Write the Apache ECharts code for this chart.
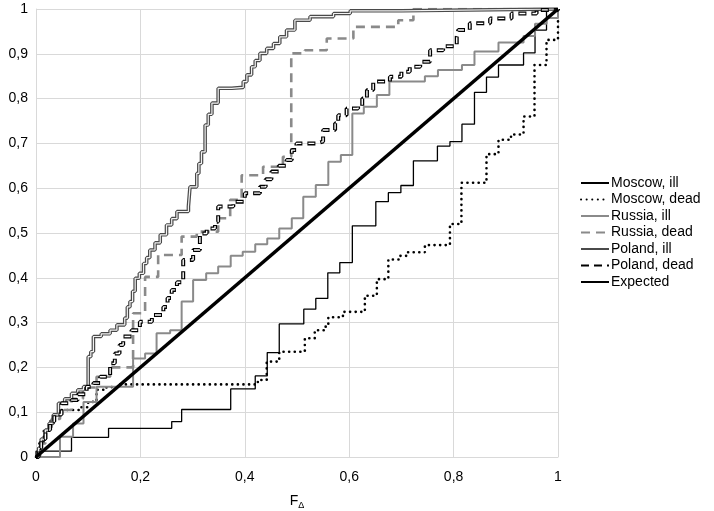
<!DOCTYPE html>
<html>
<head>
<meta charset="utf-8">
<script src="https://cdn.jsdelivr.net/npm/echarts@6/dist/echarts.min.js"></script>
<style>
html,body{margin:0;padding:0;background:#fff;}
#chart{width:714px;height:511px;}
</style>
</head>
<body>
<div id="chart"></div>
<script>
var seriesNames = ["Moscow, ill","Moscow, dead","Russia, ill","Russia, dead","Poland, ill","Poland, dead","Expected"];
var xTicks = [0,0.2,0.4,0.6,0.8,1];
var yTicks = [0,0.1,0.2,0.3,0.4,0.5,0.6,0.7,0.8,0.9,1];

var moscowIll = [[0,0],[0,0.013],[0.068,0.044],[0.139,0.064],[0.26,0.079],[0.279,0.106],[0.373,0.152],[0.42,0.181],[0.443,0.233],[0.466,0.297],[0.513,0.33],[0.536,0.354],[0.559,0.411],[0.582,0.434],[0.606,0.516],[0.651,0.57],[0.675,0.59],[0.699,0.606],[0.723,0.661],[0.769,0.694],[0.793,0.704],[0.816,0.743],[0.84,0.814],[0.863,0.848],[0.886,0.875],[0.934,0.902],[0.956,0.953],[0.978,1],[1,1]];

var moscowDead = [[0,0],[0.005,0.03],[0.015,0.06],[0.025,0.08],[0.035,0.095],[0.046,0.105],[0.084,0.111],[0.1,0.123],[0.116,0.15],[0.135,0.156],[0.158,0.162],[0.425,0.172],[0.442,0.213],[0.466,0.235],[0.515,0.265],[0.534,0.283],[0.553,0.291],[0.56,0.312],[0.588,0.324],[0.63,0.36],[0.653,0.397],[0.675,0.441],[0.697,0.449],[0.71,0.457],[0.745,0.473],[0.793,0.52],[0.815,0.612],[0.863,0.676],[0.886,0.708],[0.91,0.72],[0.934,0.76],[0.955,0.875],[0.978,0.931],[1,0.979]];

var russiaIll = [[0,0],[0.046,0.045],[0.071,0.075],[0.091,0.123],[0.116,0.157],[0.186,0.22],[0.209,0.231],[0.231,0.276],[0.257,0.283],[0.279,0.347],[0.301,0.395],[0.326,0.41],[0.349,0.425],[0.373,0.449],[0.396,0.458],[0.42,0.475],[0.443,0.488],[0.466,0.51],[0.49,0.533],[0.512,0.581],[0.536,0.607],[0.56,0.659],[0.584,0.674],[0.606,0.767],[0.628,0.782],[0.653,0.808],[0.677,0.838],[0.745,0.85],[0.77,0.864],[0.816,0.875],[0.84,0.905],[0.886,0.925],[0.934,0.94],[0.956,0.967],[0.978,0.98],[1,1]];

var russiaDead = [[0,0],[0.008,0.03],[0.018,0.06],[0.03,0.085],[0.046,0.105],[0.068,0.13],[0.09,0.155],[0.116,0.179],[0.142,0.2],[0.186,0.321],[0.209,0.402],[0.234,0.451],[0.279,0.492],[0.308,0.503],[0.349,0.533],[0.372,0.574],[0.394,0.629],[0.435,0.648],[0.473,0.67],[0.489,0.901],[0.515,0.908],[0.557,0.934],[0.608,0.96],[0.694,0.975],[0.723,1],[1,1]];

var polandIll = [[0,0],[0.005,0.02],[0.01,0.04],[0.018,0.06],[0.025,0.075],[0.033,0.094],[0.043,0.12],[0.055,0.13],[0.068,0.142],[0.08,0.15],[0.091,0.157],[0.1,0.224],[0.105,0.235],[0.11,0.269],[0.125,0.275],[0.142,0.283],[0.155,0.295],[0.17,0.31],[0.175,0.335],[0.18,0.347],[0.185,0.37],[0.19,0.399],[0.198,0.41],[0.206,0.432],[0.212,0.445],[0.218,0.462],[0.228,0.478],[0.238,0.496],[0.25,0.518],[0.26,0.532],[0.27,0.548],[0.292,0.559],[0.295,0.603],[0.308,0.633],[0.312,0.655],[0.317,0.681],[0.324,0.741],[0.33,0.765],[0.337,0.79],[0.349,0.823],[0.375,0.825],[0.397,0.838],[0.404,0.853],[0.413,0.871],[0.42,0.885],[0.429,0.901],[0.442,0.912],[0.455,0.923],[0.467,0.938],[0.48,0.953],[0.496,0.975],[0.525,0.983],[0.57,0.99],[0.602,0.996],[0.7,1],[1,1]];

var polandDead = [[0,0],[0.005,0.02],[0.01,0.04],[0.018,0.06],[0.027,0.079],[0.035,0.095],[0.049,0.12],[0.068,0.127],[0.08,0.14],[0.097,0.157],[0.11,0.165],[0.123,0.179],[0.142,0.209],[0.151,0.231],[0.16,0.25],[0.167,0.269],[0.183,0.283],[0.199,0.302],[0.222,0.317],[0.244,0.335],[0.252,0.355],[0.26,0.373],[0.27,0.39],[0.282,0.44],[0.301,0.462],[0.314,0.499],[0.327,0.51],[0.343,0.525],[0.349,0.559],[0.378,0.57],[0.4,0.589],[0.429,0.603],[0.44,0.62],[0.451,0.637],[0.465,0.65],[0.48,0.663],[0.49,0.685],[0.499,0.7],[0.538,0.704],[0.55,0.73],[0.573,0.745],[0.579,0.763],[0.595,0.778],[0.617,0.783],[0.625,0.8],[0.634,0.819],[0.646,0.838],[0.678,0.849],[0.7,0.86],[0.716,0.871],[0.736,0.882],[0.755,0.908],[0.78,0.917],[0.806,0.938],[0.809,0.953],[0.831,0.968],[0.87,0.979],[0.911,0.99],[0.959,0.998],[1,1]];

var expected = [[0,0],[1,1]];

function fmt(v){
  if (v === 0) return '0';
  if (Math.abs(v-1) < 1e-9) return '1';
  return v.toFixed(1).replace('.', ',');
}

var FONT = 'Liberation Sans';
var chart = echarts.init(document.getElementById('chart'), null, {renderer:'canvas'});

function stepSeries(name, data, ls, extra){
  var s = {
    name: name, type: 'line', step: 'end', data: data,
    symbol: 'none', showSymbol: false, animation: false,
    lineStyle: ls
  };
  if (extra) for (var k in extra) s[k] = extra[k];
  return s;
}

var option = {
  backgroundColor: '#ffffff',
  animation: false,
  grid: {left: 36, right: 156, top: 9, bottom: 54, containLabel: false, outerBoundsMode: 'none'},
  xAxis: {
    type: 'value', min: 0, max: 1, interval: 0.2,
    name: '{f|F}{d|Δ}', nameLocation: 'middle', nameGap: 36,
    nameTextStyle: {
      rich: {
        f: {fontFamily: FONT, fontSize: 14, color: '#000'},
        d: {fontFamily: FONT, fontSize: 9, color: '#000', verticalAlign: 'bottom', padding: [8,0,0,0]}
      }
    },
    axisLine: {show: true, lineStyle: {color: '#d9d9d9', width: 1}},
    axisTick: {show: false},
    splitLine: {show: true, lineStyle: {color: '#d9d9d9', width: 1}},
    axisLabel: {formatter: fmt, fontFamily: FONT, fontSize: 14, color: '#000', margin: 13}
  },
  yAxis: {
    type: 'value', min: 0, max: 1, interval: 0.1,
    axisLine: {show: true, lineStyle: {color: '#d9d9d9', width: 1}},
    axisTick: {show: false},
    splitLine: {show: true, lineStyle: {color: '#d9d9d9', width: 1}},
    axisLabel: {formatter: fmt, fontFamily: FONT, fontSize: 14, color: '#000', margin: 8}
  },
  legend: {
    orient: 'vertical', left: 575, top: 171,
    itemWidth: 28, itemHeight: 12, itemGap: 2.5,
    itemStyle: {opacity: 0},
    textStyle: {fontFamily: FONT, fontSize: 14, color: '#000', padding: [0,0,0,-3]},
    data: seriesNames
  },
  series: [
    stepSeries(seriesNames[0], moscowIll, {color: '#000', width: 1.3}, {itemStyle:{color:'#000'}}),
    stepSeries(seriesNames[1], moscowDead, {color: '#000', width: 2.6, type: [0.1, 5.5], cap: 'round'}, {itemStyle:{color:'#000'}}),
    stepSeries(seriesNames[2], russiaIll, {color: '#8a8a8a', width: 2}, {itemStyle:{color:'#8a8a8a'}}),
    stepSeries(seriesNames[3], russiaDead, {color: '#8a8a8a', width: 2.6, type: [9, 6]}, {itemStyle:{color:'#8a8a8a'}}),
    stepSeries(seriesNames[4], polandIll, {color: '#4a4a4a', width: 3.6}, {itemStyle:{color:'#4a4a4a'}}),
    stepSeries(seriesNames[4], polandIll, {color: '#f2f2f2', width: 1.2}, {itemStyle:{color:'#f2f2f2'}, silent: true}),
    stepSeries(seriesNames[5], polandDead, {color: '#000', width: 4, type: [8, 5]}, {itemStyle:{color:'#000'}}),
    stepSeries(seriesNames[5], polandDead, {color: '#fff', width: 1.4, type: [6, 7], dashOffset: -1}, {itemStyle:{color:'#fff'}, silent: true}),
    {
      name: seriesNames[6], type: 'line', data: expected, symbol: 'none', showSymbol: false,
      animation: false, lineStyle: {color: '#000', width: 3.6}, itemStyle: {color: '#000'}, z: 5
    }
  ]
};
chart.setOption(option);
</script>
</body>
</html>
